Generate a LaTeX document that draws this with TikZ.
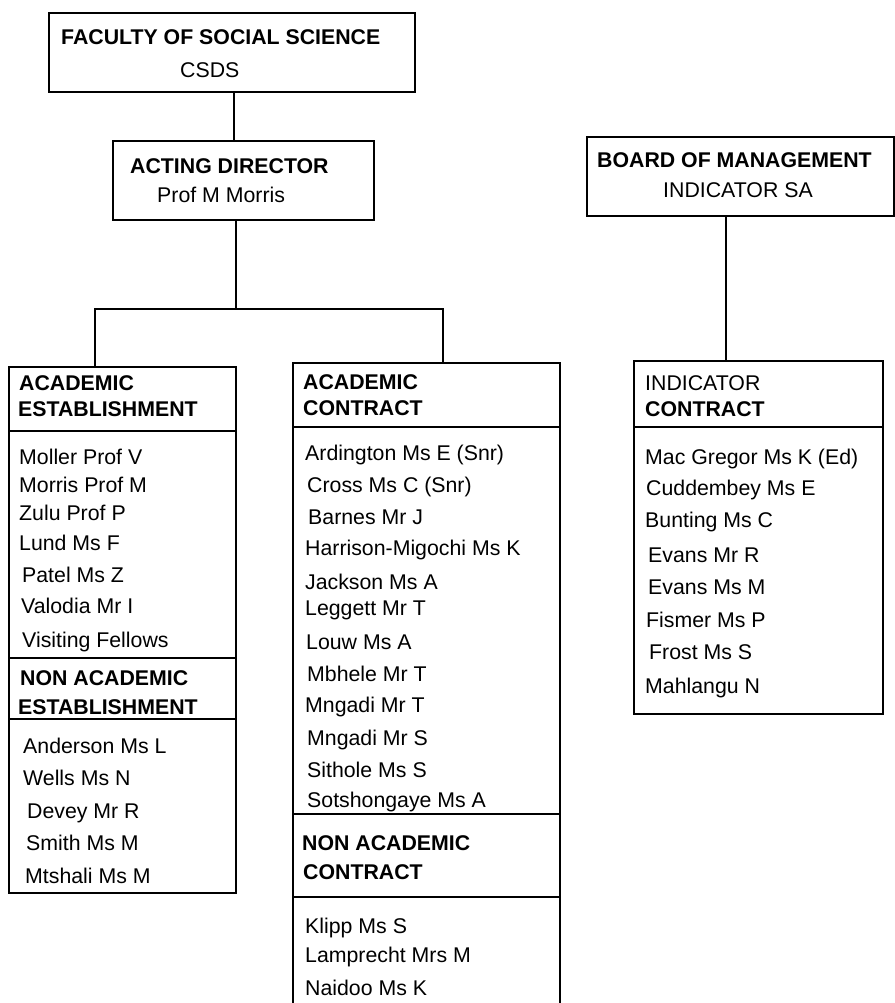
\documentclass[tikz,border=0pt]{standalone}
\usepackage{fontspec}
\setmainfont{Liberation Sans}
\newcommand{\fsz}{\fontsize{21.3pt}{25pt}\selectfont}
\tikzset{
  box/.style={draw, line width=1.8pt, rectangle, anchor=north west, inner sep=0pt},
  conn/.style={line width=1.8pt},
  hdr/.style={anchor=base west, inner sep=0pt, font=\fsz\bfseries},
  itm/.style={anchor=base west, inner sep=0pt, font=\fsz},
}
\begin{document}
\begin{tikzpicture}[x=1pt,y=-1pt]
\useasboundingbox (0,0) rectangle (894,1003);
% boxes
\node[box, minimum width=366pt, minimum height=79pt] (fac) at (48,12) {};
\node[box, minimum width=261pt, minimum height=79pt] (dir) at (112,140) {};
\node[box, minimum width=307pt, minimum height=79pt] (board) at (586,136) {};
\node[box, minimum width=227pt, minimum height=526pt] (lbox) at (8,366) {};
\node[box, minimum width=267pt, minimum height=680pt] (mbox) at (292,362) {};
\node[box, minimum width=249pt, minimum height=353pt] (rbox) at (633,360) {};
% dividers
\draw[conn] (lbox.west |- 0,431) -- (lbox.east |- 0,431);
\draw[conn] (lbox.west |- 0,658) -- (lbox.east |- 0,658);
\draw[conn] (lbox.west |- 0,719) -- (lbox.east |- 0,719);
\draw[conn] (mbox.west |- 0,427) -- (mbox.east |- 0,427);
\draw[conn] (mbox.west |- 0,814) -- (mbox.east |- 0,814);
\draw[conn] (mbox.west |- 0,897) -- (mbox.east |- 0,897);
\draw[conn] (rbox.west |- 0,427) -- (rbox.east |- 0,427);
% connectors
\coordinate (c1) at (234,0);
\coordinate (c2) at (236,309);
\coordinate (cl) at (95,309);
\coordinate (cr) at (443,309);
\coordinate (c3) at (726,0);
\draw[conn] (fac.south -| c1) -- (dir.north -| c1);
\draw[conn] (dir.south -| c2) -- (c2);
\draw[conn] (lbox.north -| cl) -- (cl) -- (cr) -- (mbox.north -| cr);
\draw[conn] (board.south -| c3) -- (rbox.north -| c3);
% top texts
\node[hdr] (t1) at (61,45) {FACULTY OF SOCIAL SCIENCE};
\node[itm] (t2) at (180,77.5) {CSDS};
\node[hdr] (t3) at (130,173.5) {ACTING DIRECTOR};
\node[itm] (t4) at (157,203) {Prof M Morris};
\node[hdr] (t5) at (597,167.5) {BOARD OF MANAGEMENT};
\node[itm] (t6) at (663,197.5) {INDICATOR SA};
% left column
\node[hdr] (l1) at (19,390.5) {ACADEMIC};
\node[hdr] (l2) at (18,416.5) {ESTABLISHMENT};
\node[itm] (l3) at (19,464.5) {Moller Prof V};
\node[itm] (l4) at (19,492.5) {Morris Prof M};
\node[itm] (l5) at (19,520.5) {Zulu Prof P};
\node[itm] (l6) at (19,550.5) {Lund Ms F};
\node[itm] (l7) at (22,582.5) {Patel Ms Z};
\node[itm] (l8) at (21,613.5) {Valodia Mr I};
\node[itm] (l9) at (22,647.5) {Visiting Fellows};
\node[hdr] (l10) at (20,685.5) {NON ACADEMIC};
\node[hdr] (l11) at (18,714.5) {ESTABLISHMENT};
\node[itm] (l12) at (23,753.5) {Anderson Ms L};
\node[itm] (l13) at (23,785.5) {Wells Ms N};
\node[itm] (l14) at (27,818.5) {Devey Mr R};
\node[itm] (l15) at (26,850.5) {Smith Ms M};
\node[itm] (l16) at (25,883.5) {Mtshali Ms M};
% middle column
\node[hdr] (m1) at (303,389.5) {ACADEMIC};
\node[hdr] (m2) at (303,415.5) {CONTRACT};
\node[itm] (m3) at (305,460.5) {Ardington Ms E (Snr)};
\node[itm] (m4) at (307,492.5) {Cross Ms C (Snr)};
\node[itm] (m5) at (308,524.5) {Barnes Mr J};
\node[itm] (m6) at (305,555.5) {Harrison-Migochi Ms K};
\node[itm] (m7) at (305,589.5) {Jackson Ms A};
\node[itm] (m8) at (305,615.5) {Leggett Mr T};
\node[itm] (m9) at (306,649.5) {Louw Ms A};
\node[itm] (m10) at (307,681.5) {Mbhele Mr T};
\node[itm] (m11) at (305,712.5) {Mngadi Mr T};
\node[itm] (m12) at (307,745.5) {Mngadi Mr S};
\node[itm] (m13) at (307,777.5) {Sithole Ms S};
\node[itm] (m14) at (307,807.5) {Sotshongaye Ms A};
\node[hdr] (m15) at (302,850.5) {NON ACADEMIC};
\node[hdr] (m16) at (303,879.5) {CONTRACT};
\node[itm] (m17) at (305,933.5) {Klipp Ms S};
\node[itm] (m18) at (305,962.5) {Lamprecht Mrs M};
\node[itm] (m19) at (305,995.5) {Naidoo Ms K};
% right column
\node[itm] (r1) at (645,390.5) {INDICATOR};
\node[hdr] (r2) at (645,416.5) {CONTRACT};
\node[itm] (r3) at (645,464.5) {Mac Gregor Ms K (Ed)};
\node[itm] (r4) at (646,495.5) {Cuddembey Ms E};
\node[itm] (r5) at (645,527.5) {Bunting Ms C};
\node[itm] (r6) at (648,562.5) {Evans Mr R};
\node[itm] (r7) at (648,594.5) {Evans Ms M};
\node[itm] (r8) at (646,627.5) {Fismer Ms P};
\node[itm] (r9) at (649,659.5) {Frost Ms S};
\node[itm] (r10) at (645,693.5) {Mahlangu N};
\end{tikzpicture}
\end{document}
